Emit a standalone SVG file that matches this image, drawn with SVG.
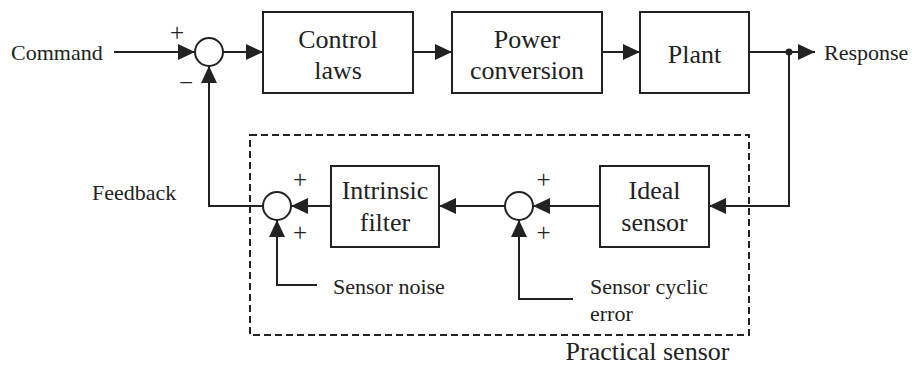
<svg xmlns="http://www.w3.org/2000/svg" width="917" height="365" viewBox="0 0 917 365" font-family="'Liberation Serif', 'Times New Roman', 'DejaVu Serif', serif">
<style>
.ln{fill:none;stroke:#222;stroke-width:2}
.box{fill:#fff;stroke:#222;stroke-width:2}
.sum{fill:#fff;stroke:#222;stroke-width:2}
.big{font-size:26px;fill:#222;text-anchor:middle}
.sm{font-size:22px;fill:#222}
.sg{font-size:25px;fill:#222;text-anchor:middle}
.dash{fill:none;stroke:#222;stroke-width:2;stroke-dasharray:7 4}
</style>
<defs>
<marker id="ah" markerUnits="userSpaceOnUse" markerWidth="17" markerHeight="16" viewBox="0 0 17 16" refX="17" refY="8" orient="auto">
<path d="M0,0 L17,8 L0,16 Z" fill="#222"/>
</marker>
</defs>
<rect id="practical-sensor" class="dash" x="250" y="135" width="499" height="200"/>
<g id="connectors">
<line class="ln" x1="114" y1="52" x2="195" y2="52" marker-end="url(#ah)"/>
<line class="ln" x1="223" y1="52" x2="263" y2="52" marker-end="url(#ah)"/>
<line class="ln" x1="413" y1="52" x2="452" y2="52" marker-end="url(#ah)"/>
<line class="ln" x1="602" y1="52" x2="640" y2="52" marker-end="url(#ah)"/>
<line class="ln" x1="749" y1="52" x2="815" y2="52" marker-end="url(#ah)"/>
<polyline class="ln" points="789,52 789,206 709,206" marker-end="url(#ah)"/>
<line class="ln" x1="600" y1="206" x2="533" y2="206" marker-end="url(#ah)"/>
<line class="ln" x1="505" y1="206" x2="439" y2="206" marker-end="url(#ah)"/>
<line class="ln" x1="331" y1="206" x2="291" y2="206" marker-end="url(#ah)"/>
<polyline class="ln" points="263,206 209,206 209,66" marker-end="url(#ah)"/>
<polyline class="ln" points="317,285 277,285 277,220" marker-end="url(#ah)"/>
<polyline class="ln" points="573,299 519,299 519,220" marker-end="url(#ah)"/>
<circle cx="789" cy="52" r="3.5" fill="#222"/>
</g>
<g id="sum1"><circle class="sum" cx="209" cy="52" r="14"/>
<text class="sg" x="177" y="41">+</text><text class="sg" x="186" y="91">−</text></g>
<g id="control-laws"><rect class="box" x="263" y="12" width="150" height="81"/>
<text class="big" x="338" y="48">Control</text><text class="big" x="338" y="79">laws</text></g>
<g id="power-conversion"><rect class="box" x="452" y="12" width="150" height="81"/>
<text class="big" x="527" y="48">Power</text><text class="big" x="527" y="79">conversion</text></g>
<g id="plant"><rect class="box" x="640" y="12" width="109" height="81"/>
<text class="big" x="694.5" y="63">Plant</text></g>
<g id="ideal-sensor"><rect class="box" x="600" y="166" width="109" height="81"/>
<text class="big" x="654.5" y="199">Ideal</text><text class="big" x="654.5" y="231">sensor</text></g>
<g id="sum3"><circle class="sum" cx="519" cy="206" r="14"/>
<text class="sg" x="543.5" y="188">+</text><text class="sg" x="543.5" y="241">+</text></g>
<g id="intrinsic-filter"><rect class="box" x="331" y="166" width="108" height="81"/>
<text class="big" x="385" y="199">Intrinsic</text><text class="big" x="385" y="231">filter</text></g>
<g id="sum2"><circle class="sum" cx="277" cy="206" r="14"/>
<text class="sg" x="300" y="188">+</text><text class="sg" x="300" y="241">+</text></g>
<g id="labels">
<text class="sm" x="11" y="60">Command</text>
<text class="sm" x="824" y="60">Response</text>
<text class="sm" x="92" y="200">Feedback</text>
<text class="sm" x="333" y="294">Sensor noise</text>
<text class="sm" x="590" y="294">Sensor cyclic</text>
<text class="sm" x="590" y="321">error</text>
<text class="big" x="647.5" y="360" font-size="27px">Practical sensor</text>
</g>
</svg>
